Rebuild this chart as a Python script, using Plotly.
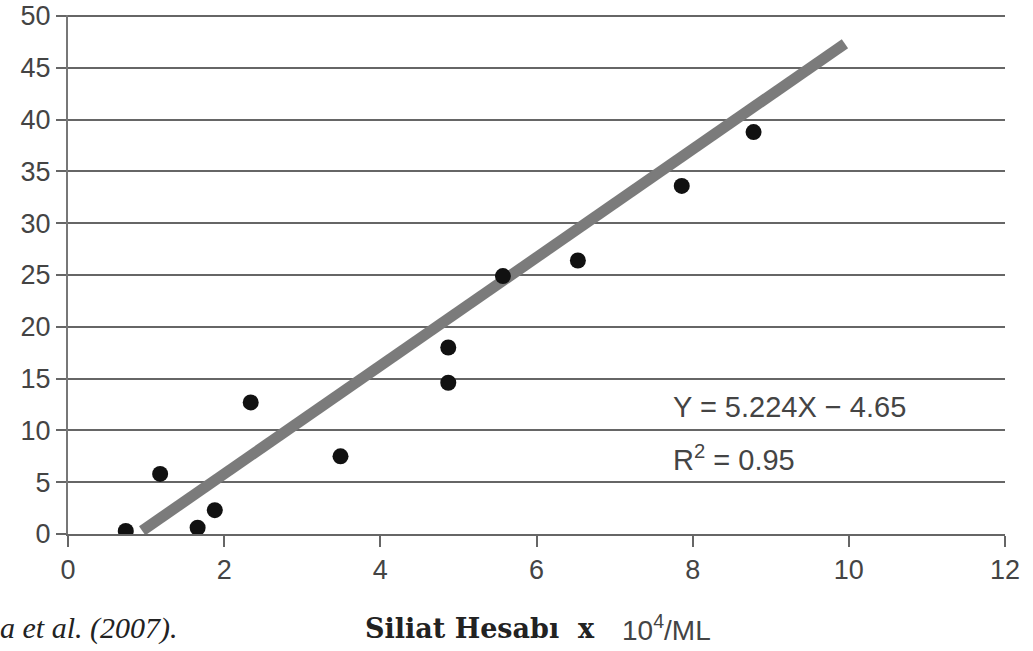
import plotly.graph_objects as go

x_vals = [0.74, 1.18, 1.66, 1.88, 2.34, 3.49, 4.87, 4.87, 5.57, 6.53, 7.86, 8.78]
y_vals = [0.3, 5.8, 0.6, 2.3, 12.7, 7.5, 18.0, 14.6, 24.9, 26.4, 33.6, 38.8]
slope, intercept = 5.224, -4.65
fit_x = [0.95, 9.95]
fit_y = [slope * v + intercept for v in fit_x]
x_ticks = [0, 2, 4, 6, 8, 10, 12]
y_ticks = [0, 5, 10, 15, 20, 25, 30, 35, 40, 45, 50]

fig = go.Figure()
fig.add_trace(go.Scatter(x=fit_x, y=fit_y, mode="lines",
                         line=dict(color="#7b7b7b", width=11), showlegend=False))
fig.add_trace(go.Scatter(x=x_vals, y=y_vals, mode="markers",
                         marker=dict(color="#111111", size=16), showlegend=False))

tickfont = dict(family="Liberation Sans, Arial", size=27, color="#444444")
fig.update_layout(
    width=1033, height=651, showlegend=False,
    margin=dict(l=68, r=28, t=15, b=117, autoexpand=False),
    plot_bgcolor="white", paper_bgcolor="white",
    xaxis=dict(range=[0, 12], tickvals=x_ticks, ticks="outside", ticklen=11,
               tickwidth=2, tickcolor="#666666", showgrid=False, zeroline=False,
               showline=True, linecolor="#666666", linewidth=2,
               tickfont=tickfont, automargin=False),
    yaxis=dict(range=[0, 50.1], tickvals=y_ticks, ticks="outside", ticklen=10,
               tickwidth=2, tickcolor="#666666", showgrid=True, gridcolor="#666666",
               gridwidth=2, zeroline=False, showline=True, linecolor="#777777",
               linewidth=2, tickfont=tickfont, automargin=False),
)
eqfont = dict(family="Liberation Sans, Arial", size=29, color="#444444")
fig.add_annotation(x=7.72, y=12.3, xref="x", yref="y", xanchor="left", yanchor="middle",
                   showarrow=False, text="Y = 5.224X − 4.65", font=eqfont)
fig.add_annotation(x=7.72, y=7.3, xref="x", yref="y", xanchor="left", yanchor="middle",
                   showarrow=False, text="R<sup>2</sup> = 0.95", font=eqfont)
cap_y = (534 - 628) / 519
fig.add_annotation(x=0, y=cap_y, xref="paper", yref="paper", xanchor="left", yanchor="middle",
                   xshift=-70, showarrow=False, text="<i>a et al. (2007).</i>",
                   font=dict(family="Liberation Serif, Times New Roman", size=30, color="#222222"))
fig.add_annotation(x=(363 - 68) / 937, y=cap_y, xref="paper", yref="paper",
                   xanchor="left", yanchor="middle",
                   showarrow=False, text="<b>Siliat Hesabı  x</b>",
                   font=dict(family="DejaVu Serif", size=27, color="#222222"))
fig.add_annotation(x=(620 - 68) / 937, y=cap_y, xref="paper", yref="paper",
                   xanchor="left", yanchor="middle",
                   showarrow=False, text="10<sup>4</sup>/ML",
                   font=dict(family="Liberation Sans, Arial", size=28, color="#444444"))
fig.write_html("out.html")
